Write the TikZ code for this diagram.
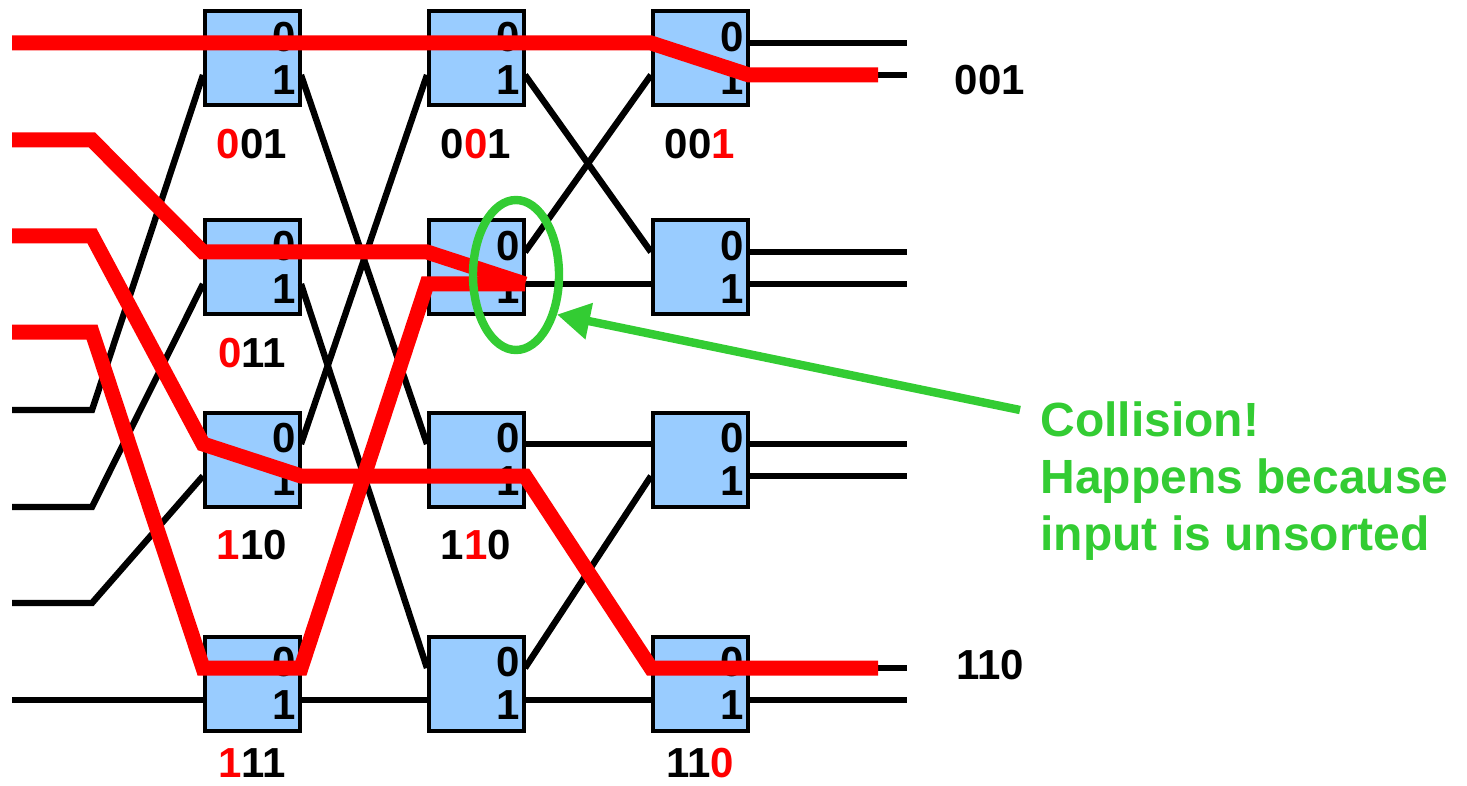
\documentclass[tikz,border=0pt]{standalone}
\usepackage{fontspec}
\setmainfont{Liberation Sans}
\usetikzlibrary{calc,arrows.meta,shapes.geometric}
\definecolor{wirered}{HTML}{FF0000}
\definecolor{boxblue}{HTML}{99CCFF}
\definecolor{notegreen}{HTML}{33CC33}

\begin{document}
\begin{tikzpicture}[x=0.5pt,y=-0.5pt,
	switchbox/.style={draw=black, line width=2pt, fill=boxblue, minimum width=47.5pt, minimum height=47pt, inner sep=0pt},
	portnum/.style={font=\fontsize{21}{25}\selectfont\bfseries, inner sep=0pt},
	tag/.style={font=\fontsize{21}{25}\selectfont\bfseries, inner sep=0pt},
	wire/.style={line width=3.2pt},
	route/.style={draw=wirered, line width=7.5pt},
	note/.style={draw=notegreen, line width=4.2pt}]
				\useasboundingbox (0,0) rectangle (1467,786);
				% switches, with their port coordinates
				\foreach \c/\x in {1/203,2/427,3/651}
				\foreach \r/\y in {1/10,2/219,3/411,4/635} {
					\node [switchbox] (b\c\r) at (\x+49,\y+48.5) {};
					\coordinate (in\c\r0) at (\x,\y+33);
					\coordinate (in\c\r1) at (\x,\y+65);
					\coordinate (out\c\r0) at (\x+98,\y+33);
					\coordinate (out\c\r1) at (\x+98,\y+65);
					\node [portnum] at (\x+81,\y+27) {0};
					\node [portnum] at (\x+81,\y+70) {1};
				}
				\node [tag] (lab11) at ($(b11.south)+(0,37)$) {\textcolor{wirered}{0}01};
				\node [tag] (lab12) at ($(b12.south)+(0,37)$) {\textcolor{wirered}{0}11};
				\node [tag] (lab13) at ($(b13.south)+(0,37)$) {\textcolor{wirered}{1}10};
				\node [tag] (lab14) at ($(b14.south)+(0,31)$) {\textcolor{wirered}{1}11};
				\node [tag] (lab21) at ($(b21.south)+(0,37)$) {0\textcolor{wirered}{0}1};
				\node [tag] (lab23) at ($(b23.south)+(0,37)$) {1\textcolor{wirered}{1}0};
				\node [tag] (lab31) at ($(b31.south)+(0,37)$) {00\textcolor{wirered}{1}};
				\node [tag] (lab34) at ($(b34.south)+(0,31)$) {11\textcolor{wirered}{0}};
				% inputs
				\foreach \i/\y in {0/43,1/140,2/236,3/332,4/410,5/507,6/603,7/700} {
					\coordinate (src\i) at (12,\y);
					\coordinate (bend\i) at (92,\y);
				}
				\coordinate (rim) at (907,0);
				\coordinate (redend) at (878,0);
				\foreach \i/\t in {0/110,1/120,2/130,3/140,4/111,5/121,6/131,7/141}
					\draw [wire] (src\i) -- (bend\i) -- (in\t);
				\foreach \a/\b in {110/210,111/230,120/220,121/240,130/211,131/231,140/221,141/241}
					\draw [wire] (out\a) -- (in\b);
				\foreach \a/\b in {210/310,211/320,220/311,221/321,230/330,231/340,240/331,241/341}
					\draw [wire] (out\a) -- (in\b);
				\foreach \a in {310,311,320,321,330,331,340,341}
					\draw [wire] (out\a) -- (out\a -| rim);
				\node [tag] (res0) at (990,80) {001};
				\node [tag] (res1) at (990,665) {110};
				% routed messages
				\draw [route] (src0) -- (in310) -- (out311) -- (out311 -| redend);
				\draw [route] (src1) -- (bend1) -- (in120) -- (in220) -- (out221);
				\draw [route] (src2) -- (bend2) -- (in130) -- (out131) -- (in231) -- (out231) -- (in340) -- (out340 -| redend);
				\draw [route] (src3) -- (bend3) -- (in140) -- (out140) -- (in221) -- (out221);
				% collision
				\node [note, ellipse, minimum width=43pt, minimum height=75pt, inner sep=0pt] (clash) at (516,275) {};
				\node [font=\fontsize{24}{28.5}\selectfont\bfseries, text=notegreen, align=left, anchor=north west, inner sep=0pt] (msg) at (1040,401) {Collision!\\Happens because\\input is unsorted};
				\draw [note, -{Triangle[length=16.5pt, width=17.5pt]}] ([xshift=-10pt,yshift=-4.5pt]msg.north west) -- (clash.-44);
			\end{tikzpicture}
\end{document}
